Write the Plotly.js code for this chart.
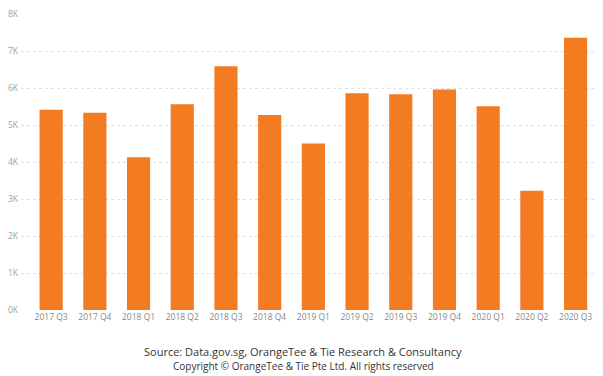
<!DOCTYPE html>
<html>
<head>
<meta charset="utf-8">
<script src="https://cdn.plot.ly/plotly-3.0.1.min.js"></script>
<style>html,body{margin:0;padding:0;background:#fff;}#chart{width:603px;height:376px;}</style>
</head>
<body>
<div id="chart"></div>
<script>
var quarters = ["2017 Q3","2017 Q4","2018 Q1","2018 Q2","2018 Q3","2018 Q4","2019 Q1","2019 Q2","2019 Q3","2019 Q4","2020 Q1","2020 Q2","2020 Q3"];
var values = [5410, 5330, 4130, 5560, 6590, 5270, 4500, 5860, 5830, 5960, 5510, 3220, 7360];
var yTickVals = [0,1000,2000,3000,4000,5000,6000,7000,8000];
var yTickText = ["0K","1K","2K","3K","4K","5K","6K","7K","8K"];
var sourceText = "Source: Data.gov.sg, OrangeTee &amp; Tie Research &amp; Consultancy";
var copyrightText = "Copyright © OrangeTee &amp; Tie Pte Ltd. All rights reserved";

var trace = {
  type: "bar",
  x: quarters,
  y: values,
  marker: {color: "#f37b21"},
  hoverinfo: "x+y"
};

var layout = {
  width: 603, height: 376,
  margin: {l: 21, r: 6, t: 14, b: 66},
  paper_bgcolor: "#ffffff",
  plot_bgcolor: "#ffffff",
  bargap: 0.47,
  showlegend: false,
  font: {family: "Open Sans, sans-serif", color: "#888"},
  xaxis: {
    type: "category",
    range: [-0.69, 12.49],
    showgrid: false, zeroline: false, showline: false,
    ticks: "",
    tickfont: {size: 8.5, color: "#888"},
    automargin: false
  },
  yaxis: {
    range: [0, 8000],
    tickvals: yTickVals,
    ticktext: yTickText,
    showgrid: true,
    gridcolor: "#e0e0e0",
    griddash: "dot",
    gridwidth: 1,
    zeroline: false, showline: false,
    ticks: "",
    ticklabelstandoff: 2,
    tickfont: {size: 8.5, color: "#a0a0a0"},
    automargin: false
  },
  annotations: [
    {text: sourceText, xref: "paper", yref: "paper", x: 0.49, y: -0.139, xanchor: "center", yanchor: "middle",
     showarrow: false, font: {size: 11, color: "#333"}},
    {text: copyrightText, xref: "paper", yref: "paper", x: 0.49, y: -0.189, xanchor: "center", yanchor: "middle",
     showarrow: false, font: {size: 10, color: "#333"}}
  ]
};

Plotly.newPlot("chart", [trace], layout, {displayModeBar: false, staticPlot: true});
</script>
</body>
</html>
